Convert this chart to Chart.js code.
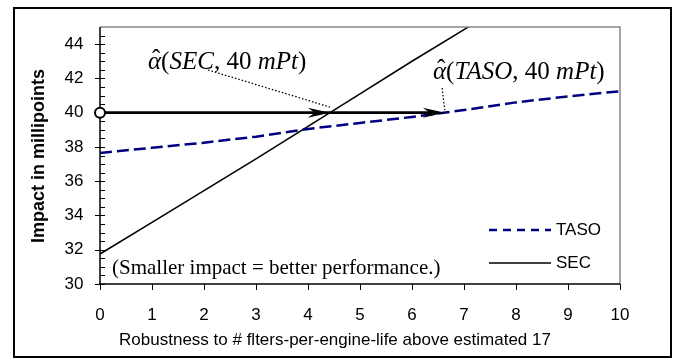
<!DOCTYPE html>
<html><head><meta charset="utf-8">
<script src="https://cdn.jsdelivr.net/npm/chart.js@4.4.1/dist/chart.umd.min.js"></script>
<style>html,body{margin:0;padding:0;background:#fff;}#wrap{width:676px;height:358px;position:relative;}</style>
</head><body><div id="wrap"><canvas id="c" width="676" height="358"></canvas></div>
<script>
// ---- data ----
const xValues    = [0, 1, 2, 3, 4, 5, 6, 7, 8, 9, 10];
const tasoValues = [37.65, 37.95, 38.25, 38.6, 39.05, 39.4, 39.75, 40.15, 40.6, 40.95, 41.25];
const secX       = [0, 1, 2, 3, 4, 5, 6, 7, 8];
const secValues  = [31.75, 33.6, 35.45, 37.3, 39.2, 41.1, 43.0, 44.85, 46.7];
const seriesNames = ['TASO', 'SEC'];
const yTickValues = [30, 32, 34, 36, 38, 40, 42, 44];
const xTickValues = [0, 1, 2, 3, 4, 5, 6, 7, 8, 9, 10];
const targetImpact = 40;           // mPt
const crossingX = [4.42, 6.63];    // SEC, TASO reach 40 mPt
const xTitle = 'Robustness to # flters-per-engine-life above estimated 17';
const yTitle = 'Impact in millipoints';
const noteText = '(Smaller impact = better performance.)';

const SANS = '"Liberation Sans", Arial, sans-serif';
const SERIF = '"Liberation Serif", "Times New Roman", serif';

function drawMath(ctx, x, y, parts, size) {
  let cx = x;
  ctx.textBaseline = 'middle';
  ctx.textAlign = 'left';
  parts.forEach(p => {
    ctx.font = (p.it ? 'italic ' : '') + size + 'px ' + SERIF;
    const w = ctx.measureText(p.t).width;
    ctx.fillText(p.t, cx, y);
    if (p.hat) {
      ctx.font = size + 'px ' + SERIF;
      ctx.textAlign = 'center';
      ctx.fillText('\u02C6', cx + w / 2 + 1.5, y - size * 0.07);
      ctx.textAlign = 'left';
    }
    cx += w;
  });
}

function arrowHead(ctx, tipX, tipY) {
  ctx.beginPath();
  ctx.moveTo(tipX, tipY);
  ctx.lineTo(tipX - 22, tipY - 5);
  ctx.lineTo(tipX - 15, tipY);
  ctx.lineTo(tipX - 22, tipY + 5);
  ctx.closePath();
  ctx.fill();
}

const decor = {
  id: 'decor',
  afterDatasetsDraw(chart) {
    const {ctx, chartArea: a, scales: {x, y}} = chart;
    ctx.save();
    // plot borders
    ctx.strokeStyle = '#888';
    ctx.lineWidth = 1.5;
    ctx.beginPath();
    ctx.moveTo(a.left, a.top); ctx.lineTo(a.right, a.top); ctx.lineTo(a.right, a.bottom);
    ctx.stroke();
    ctx.strokeStyle = '#000';
    ctx.lineWidth = 1.5;
    ctx.beginPath();
    ctx.moveTo(a.left, a.top); ctx.lineTo(a.left, a.bottom + 1);
    ctx.moveTo(a.left - 1, a.bottom); ctx.lineTo(a.right, a.bottom);
    ctx.stroke();
    // ticks
    ctx.lineWidth = 1;
    ctx.beginPath();
    for (let v = y.min; v < y.max; v += 0.5) {
      const py = Math.round(y.getPixelForValue(v)) + 0.5;
      const major = yTickValues.includes(v);
      ctx.moveTo(major ? a.left - 5 : a.left, py);
      ctx.lineTo(a.left + 5, py);
    }
    xTickValues.forEach(v => {
      const px = Math.round(x.getPixelForValue(v)) + 0.5;
      ctx.moveTo(px, a.bottom); ctx.lineTo(px, a.bottom + 6);
    });
    ctx.stroke();

    // target arrow
    const y40 = y.getPixelForValue(targetImpact);
    const x0 = x.getPixelForValue(0);
    const xS = x.getPixelForValue(crossingX[0]);
    const xT = x.getPixelForValue(crossingX[1]);
    ctx.strokeStyle = '#000';
    ctx.fillStyle = '#000';
    ctx.lineWidth = 2.6;
    ctx.beginPath(); ctx.moveTo(x0, y40); ctx.lineTo(xT - 6, y40); ctx.stroke();
    arrowHead(ctx, xS, y40);
    arrowHead(ctx, xT, y40);
    ctx.lineWidth = 2;
    ctx.fillStyle = '#fff';
    ctx.beginPath(); ctx.arc(x0, y40, 5, 0, Math.PI * 2); ctx.fill(); ctx.stroke();

    // dotted leaders
    ctx.lineWidth = 1.3;
    ctx.setLineDash([1.5, 2]);
    ctx.beginPath();
    ctx.moveTo(x.getPixelForValue(2.08), y.getPixelForValue(42.49));
    ctx.lineTo(x.getPixelForValue(4.42), y.getPixelForValue(40.33));
    ctx.moveTo(x.getPixelForValue(6.58), y.getPixelForValue(41.44));
    ctx.lineTo(x.getPixelForValue(6.63), y.getPixelForValue(40.16));
    ctx.stroke();
    ctx.setLineDash([]);

    // annotations
    ctx.fillStyle = '#000';
    drawMath(ctx, 148, 62, [{t:'\u03B1', it:true, hat:true}, {t:'('}, {t:'SEC', it:true}, {t:', 40 '}, {t:'mPt', it:true}, {t:')'}], 25);
    drawMath(ctx, 433, 72, [{t:'\u03B1', it:true, hat:true}, {t:'('}, {t:'TASO', it:true}, {t:', 40 '}, {t:'mPt', it:true}, {t:')'}], 25);
    ctx.font = '21px ' + SERIF;
    ctx.textBaseline = 'middle'; ctx.textAlign = 'left';
    ctx.fillText(noteText, 112, 268);

    // legend
    const ds = chart.data.datasets;
    const legY = [230, 263];
    ds.forEach((d, i) => {
      ctx.strokeStyle = d.borderColor;
      ctx.lineWidth = d.borderWidth;
      ctx.setLineDash(d.borderDash && d.borderDash.length ? [8, 6] : []);
      ctx.beginPath(); ctx.moveTo(489, legY[i]); ctx.lineTo(551, legY[i]); ctx.stroke();
      ctx.setLineDash([]);
      ctx.fillStyle = '#000';
      ctx.font = '17px ' + SANS;
      ctx.fillText(d.label, 556, legY[i]);
    });

    // axis titles
    ctx.font = '17px ' + SANS;
    ctx.textAlign = 'center';
    ctx.fillText(xTitle, 335, 340);
    ctx.save();
    ctx.translate(39, 156);
    ctx.rotate(-Math.PI / 2);
    ctx.font = 'bold 18px ' + SANS;
    ctx.fillText(yTitle, 0, 0);
    ctx.restore();
    ctx.restore();
  },
  afterDraw(chart) {
    const ctx = chart.ctx;
    ctx.save();
    ctx.strokeStyle = '#000';
    ctx.lineWidth = 2;
    ctx.strokeRect(14, 8, 657, 349);
    ctx.restore();
  }
};

new Chart(document.getElementById('c'), {
  type: 'line',
  data: {
    datasets: [
      { label: seriesNames[0], data: xValues.map((v, i) => ({x: v, y: tasoValues[i]})),
        borderColor: '#000080', borderWidth: 2.5, borderDash: [12, 5], pointRadius: 0, tension: 0, fill: false },
      { label: seriesNames[1], data: secX.map((v, i) => ({x: v, y: secValues[i]})),
        borderColor: '#000000', borderWidth: 1.6, pointRadius: 0, tension: 0, fill: false, clip: 0 }
    ]
  },
  options: {
    responsive: false, animation: false, devicePixelRatio: 1,
    layout: { padding: { left: 14, top: 27, right: 56, bottom: 8 } },
    plugins: { legend: { display: false }, tooltip: { enabled: false } },
    scales: {
      x: {
        type: 'linear', min: 0, max: 10,
        afterFit: s => { s.height = 66; },
        afterBuildTicks: s => { s.ticks = xTickValues.map(v => ({value: v})); },
        ticks: { stepSize: 1, color: '#000', font: { family: SANS, size: 17 }, padding: 21, maxRotation: 0, autoSkip: false },
        grid: { display: false, drawTicks: false },
        border: { display: false },
        title: { display: false }
      },
      y: {
        min: 30, max: 45,
        afterFit: s => { s.width = 86; },
        afterBuildTicks: s => { s.ticks = yTickValues.map(v => ({value: v})); },
        ticks: { stepSize: 2, color: '#000', font: { family: SANS, size: 17 }, padding: 16.5 },
        grid: { display: false, drawTicks: false },
        border: { display: false },
        title: { display: false }
      }
    }
  },
  plugins: [decor]
});
</script></body></html>
